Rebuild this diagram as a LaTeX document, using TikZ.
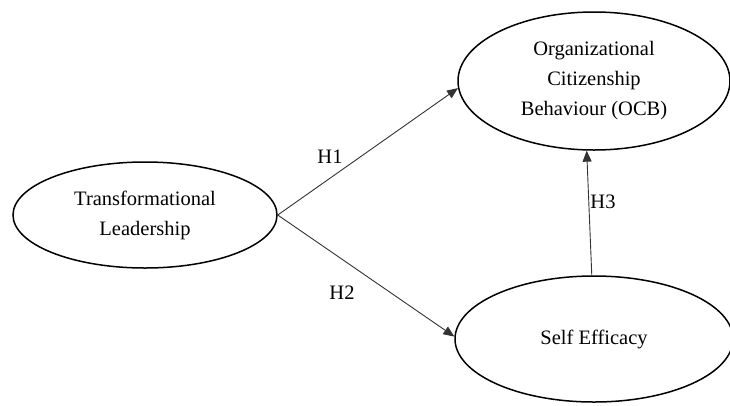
\documentclass[tikz,border=0pt]{standalone}
\usepackage{fontspec}
\setmainfont{Liberation Serif}
\usetikzlibrary{shapes.geometric,arrows.meta}
\tikzset{
  construct/.style={ellipse, draw=black, line width=1.5pt, inner sep=0pt, align=center,
    font=\fontsize{20.5}{30}\selectfont},
  path/.style={draw=black!80, line width=0.9pt, -{Triangle[length=11pt,width=9pt]}},
  hlabel/.style={font=\fontsize{20.5}{24}\selectfont, inner sep=0pt}
}
\begin{document}
\begin{tikzpicture}[x=1pt,y=-1pt]
\useasboundingbox (0,0) rectangle (730,405);
\node[construct, minimum width=264pt, minimum height=106pt] (TL) at (145,215) {Transformational\\Leadership};
\node[construct, minimum width=272pt, minimum height=138pt] (OCB) at (594,81) {Organizational\\Citizenship\\Behaviour (OCB)};
\node[construct, minimum width=278pt, minimum height=126pt] (SE) at (594,339) {Self Efficacy};
\draw[path] (TL.east) -- (OCB.183);
\draw[path] (TL.east) -- (SE.179);
\draw[path] (SE.92) -- (OCB.264);
\node[hlabel] (h1) at (330,157) {H1};
\node[hlabel] (h2) at (342,293) {H2};
\node[hlabel] (h3) at (603,202) {H3};
\end{tikzpicture}
\end{document}
